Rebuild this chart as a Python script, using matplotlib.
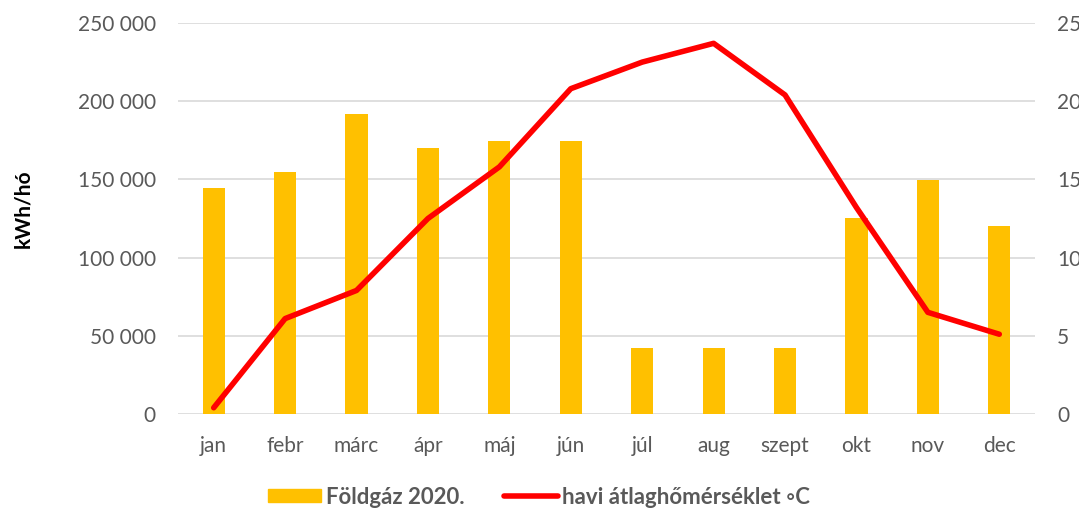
import matplotlib
matplotlib.use("Agg")
import matplotlib.pyplot as plt
from matplotlib.ticker import FuncFormatter
from matplotlib.patches import Patch
from matplotlib.lines import Line2D

months = ["jan", "febr", "márc", "ápr", "máj", "jún", "júl", "aug", "szept", "okt", "nov", "dec"]
gas_kwh = [144300, 154600, 191900, 170300, 174400, 174800, 42300, 42500, 41900, 125300, 149600, 120400]
temp_c = [0.4, 6.1, 7.9, 12.5, 15.8, 20.8, 22.5, 23.7, 20.4, 13.2, 6.5, 5.1]

plt.rcParams['font.family'] = ['Lato', 'DejaVu Sans']
grey = "#595959"

fig = plt.figure(figsize=(10.79, 5.08), dpi=100)
ax = fig.add_axes([178/1079, 1-414/508, (1035-178)/1079, (414-23)/508])
x = list(range(len(months)))
ax.bar(x, gas_kwh, width=0.31, color="#FFC000", zorder=2)
ax.set_xlim(-0.5, 11.5)
ax.set_ylim(0, 250000)
ax.set_yticks(range(0, 250001, 50000))
ax.yaxis.set_major_formatter(FuncFormatter(lambda v, p: f"{int(v):,}".replace(",", " ")))
ax.grid(axis="y", color="#D9D9D9", linewidth=1.2, zorder=0)
ax.set_axisbelow(True)
for s in ax.spines.values():
    s.set_visible(False)
ax.tick_params(axis="both", length=0, labelsize=15, colors=grey, pad=16)
ax.tick_params(axis="x", pad=16)
ax.set_xticks(x)
ax.set_xticklabels(months)
fig.text(23/1079, 1-209/508, "kWh/hó", rotation=90, fontsize=15, fontweight="bold",
         color="black", ha="center", va="center")

ax2 = ax.twinx()
ax2.plot(x, temp_c, color="#FF0000", linewidth=4, solid_capstyle="round", zorder=3)
ax2.set_ylim(0, 25)
ax2.set_yticks(range(0, 26, 5))
for s in ax2.spines.values():
    s.set_visible(False)
ax2.tick_params(axis="y", length=0, labelsize=15, colors=grey, pad=16)

handles = [Patch(color="#FFC000"), Line2D([0], [0], color="#FF0000", linewidth=4, solid_capstyle="round")]
leg = fig.legend(handles, ["Földgáz 2020.", "havi átlaghőmérséklet ◦C"], loc="center",
                 bbox_to_anchor=(539/1079, 1-497/508), ncol=2, frameon=False,
                 handlelength=2.4, handleheight=0.55, handletextpad=0.2, columnspacing=1.8,
                 borderpad=0, prop={"size": 16, "weight": "bold"})
for t in leg.get_texts():
    t.set_color(grey)

fig.savefig("out.png", dpi=100)
